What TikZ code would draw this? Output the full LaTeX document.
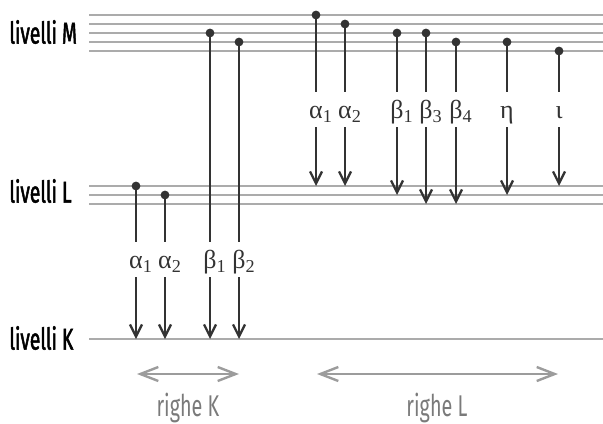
\documentclass[tikz,border=0pt]{standalone}
\usepackage{fontspec}
\setmainfont{Fira Sans}
\newfontfamily\condfont[FakeStretch=0.66]{Fira Sans}
\newfontfamily\condboldfont[FakeStretch=0.64,FakeBold=1.6]{Fira Sans}
\newfontfamily\grkfont{Liberation Serif}
\usetikzlibrary{arrows.meta}

\definecolor{levgray}{HTML}{ABABAB}
\definecolor{ink}{HTML}{333333}
\definecolor{spangray}{HTML}{9C9C9C}
\definecolor{captgray}{HTML}{7A7A7A}

% one emission line: name, x, y of the upper level, baseline of its symbol, y of the lower level, symbol
\newcommand{\emission}[6]{%
  \coordinate (#1top) at (#2,#3);
  \coordinate (#1bot) at (#2,#5);
  \node[greek] (#1lab) at (#2,#4) {#6};
  \fill[ink] (#1top) circle[radius=2.2pt];
  \draw[trans] (#1top) -- (#1lab.north);
  \draw[trans,-{Straight Barb[length=6pt,width=6pt,line width=1.15pt]}] (#1lab.south) -- (#1bot);
}
\newcommand{\sym}[2]{#1\rlap{\raisebox{-0.5pt}{\textsubscript{#2}}}}

\begin{document}
\begin{tikzpicture}[x=0.5pt,y=-0.5pt,
  level/.style={draw=levgray, line width=1.1pt},
  trans/.style={draw=ink, line width=1.25pt},
  greek/.style={font=\grkfont\fontsize{13pt}{15pt}\selectfont, text=ink,
    inner sep=0pt, anchor=base, text height=13pt, text depth=4.5pt},
  levlabel/.style={font=\condboldfont\fontsize{15pt}{17pt}\selectfont, text=black,
    inner sep=0pt, anchor=west},
  span/.style={draw=spangray, line width=1.2pt,
    {Straight Barb[length=9pt,width=7pt,line width=1.2pt]}-{Straight Barb[length=9pt,width=7pt,line width=1.2pt]}},
  caption/.style={font=\condfont\fontsize{15pt}{17pt}\selectfont, text=captgray, inner sep=0pt}]

\useasboundingbox (0,0) rectangle (603,423);

% energy levels
\foreach \n/\y in {M1/15, M2/24, M3/33, M4/42, M5/51, L1/186, L2/195, L3/204, K/339} {
  \coordinate (\n w) at (89,\y);
  \coordinate (\n e) at (603,\y);
  \draw[level] (\n w) -- (\n e);
}

\node[levlabel] (labM) at (9,32) {livelli M};
\node[levlabel] (labL) at (9,191) {livelli L};
\node[levlabel] (labK) at (9,338) {livelli K};

% K series
\emission{Ka}{136}{186}{268}{339}{\sym{α}{1}}
\emission{Kb}{165}{195}{268}{339}{\sym{α}{2}}
\emission{Kc}{210}{33}{268}{339}{\sym{β}{1}}
\emission{Kd}{239}{42}{268}{339}{\sym{β}{2}}

% L series
\emission{La}{316}{15}{118}{186}{\sym{α}{1}}
\emission{Lb}{345}{24}{118}{186}{\sym{α}{2}}
\emission{Lc}{397}{33}{118}{195}{\sym{β}{1}}
\emission{Ld}{426}{33}{118}{204}{\sym{β}{3}}
\emission{Le}{456}{42}{118}{204}{\sym{β}{4}}
\emission{Lf}{507}{42}{118}{195}{η}
\emission{Lg}{559}{51}{118}{186}{ι}

% ranges of the two series
\coordinate (rKw) at (137,374);
\coordinate (rKe) at (239,374);
\coordinate (rLw) at (317,374);
\coordinate (rLe) at (558,374);
\draw[span] (rKw) -- (rKe);
\draw[span] (rLw) -- (rLe);
\node[caption] (capK) at (188,408) {righe K};
\node[caption] (capL) at (437,408) {righe L};
\end{tikzpicture}
\end{document}
